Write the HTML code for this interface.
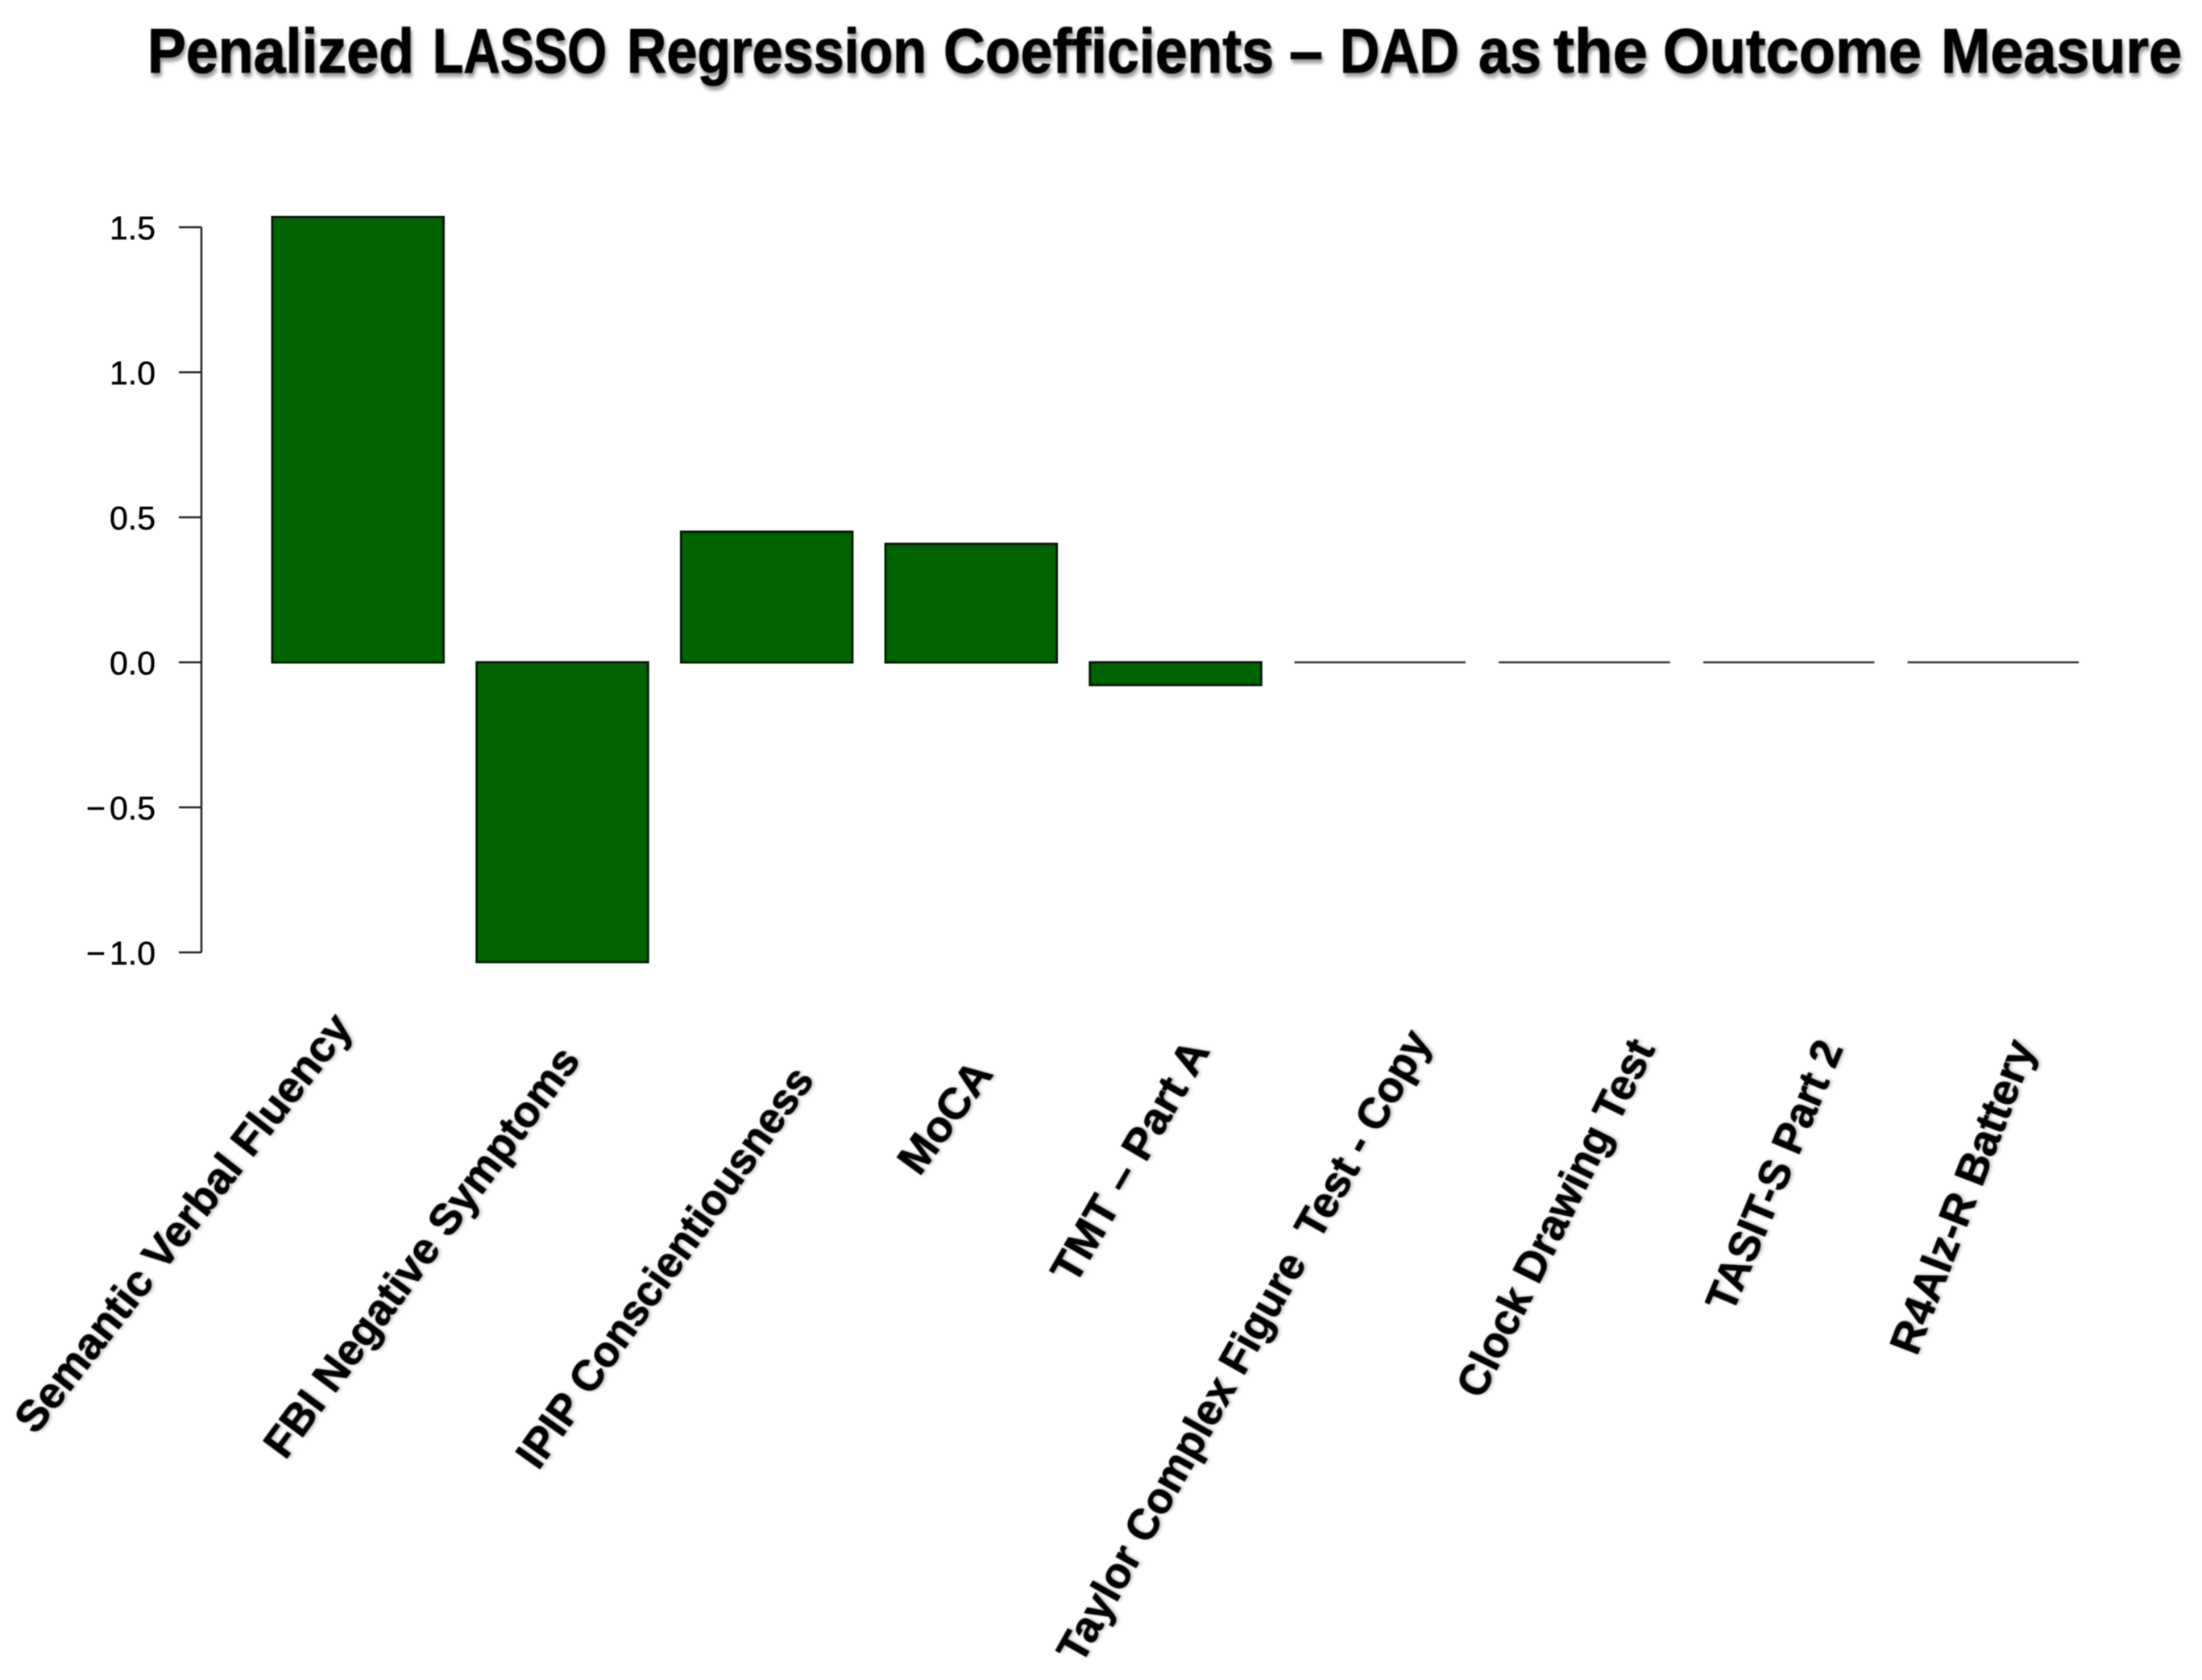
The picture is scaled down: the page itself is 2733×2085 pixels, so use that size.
<!DOCTYPE html>
<html lang="en">
<head>
<meta charset="utf-8">
<title>Penalized LASSO Regression Coefficients</title>
<style>
html,body{margin:0;padding:0;background:#fff;width:2733px;height:2085px;overflow:hidden}
svg{display:block}
.heading{font:bold 78px "Liberation Sans",sans-serif;fill:#000;stroke:#000;stroke-width:1}
.cat{font:bold 54px "Liberation Sans",sans-serif;fill:#000;stroke:#000;stroke-width:.8}
.tick{font:41px "Liberation Sans",sans-serif;fill:#000;stroke:#000;stroke-width:.5;text-anchor:end}
</style>
</head>
<body>
<svg id="chart" xmlns="http://www.w3.org/2000/svg" width="2733" height="2085" viewBox="0 0 2733 2085">
  <defs>
    <filter id="soft" x="-5%" y="-20%" width="110%" height="150%">
      <feGaussianBlur in="SourceAlpha" stdDeviation="2.5" result="b"/>
      <feOffset in="b" dx="2" dy="5" result="o"/>
      <feComponentTransfer in="o" result="s"><feFuncA type="linear" slope="0.4"/></feComponentTransfer>
      <feGaussianBlur in="SourceGraphic" stdDeviation="0.9" result="g"/>
      <feMerge><feMergeNode in="s"/><feMergeNode in="g"/></feMerge>
    </filter>
    <filter id="softLabel" x="-10%" y="-10%" width="120%" height="120%">
      <feGaussianBlur in="SourceAlpha" stdDeviation="2" result="b"/>
      <feOffset in="b" dx="1.5" dy="2.5" result="o"/>
      <feComponentTransfer in="o" result="s"><feFuncA type="linear" slope="0.22"/></feComponentTransfer>
      <feGaussianBlur in="SourceGraphic" stdDeviation="0.9" result="g"/>
      <feMerge><feMergeNode in="s"/><feMergeNode in="g"/></feMerge>
    </filter>
    <filter id="blur" x="-5%" y="-5%" width="110%" height="110%"><feGaussianBlur stdDeviation="0.5"/></filter>
  </defs>
  <rect width="2733" height="2085" fill="#fff"/>
  <text class="heading" y="90" filter="url(#soft)" xml:space="preserve"><tspan x="183" textLength="331" lengthAdjust="spacingAndGlyphs">Penalized</tspan> <tspan x="537" textLength="216" lengthAdjust="spacingAndGlyphs">LASSO</tspan> <tspan x="778" textLength="372" lengthAdjust="spacingAndGlyphs">Regression</tspan> <tspan x="1171" textLength="410" lengthAdjust="spacingAndGlyphs">Coefficients</tspan> <tspan x="1600" textLength="42" lengthAdjust="spacingAndGlyphs">–</tspan> <tspan x="1663" textLength="148" lengthAdjust="spacingAndGlyphs">DAD</tspan> <tspan x="1835" textLength="78" lengthAdjust="spacingAndGlyphs">as</tspan> <tspan x="1928" textLength="117" lengthAdjust="spacingAndGlyphs">the</tspan> <tspan x="2064" textLength="321" lengthAdjust="spacingAndGlyphs">Outcome</tspan> <tspan x="2409" textLength="299" lengthAdjust="spacingAndGlyphs">Measure</tspan></text>
  <g id="axis" filter="url(#blur)"></g>
  <g id="bars" filter="url(#blur)"></g>
  <g id="cats"></g>
</svg>
<script>
const categories = ["Semantic Verbal Fluency","FBI Negative Symptoms","IPIP Conscientiousness","MoCA","TMT – Part A","Taylor Complex Figure  Test - Copy","Clock Drawing Test","TASIT-S Part 2","R4Alz-R Battery"];
const coefficients = [1.535,-1.033,0.45,0.408,-0.078,0,0,0,0];
const yTicks = [1.5,1.0,0.5,0.0,-0.5,-1.0];
const yTickLabels = ["1.5","1.0","0.5","0.0","−0.5","−1.0"];

/* label placement in the reference: each label has its own slant and run length */
const labelLayout = [
  {x:44,y:1782,a:52,len:642},
  {x:354,y:1813,a:53.5,len:618},
  {x:668,y:1826,a:54.7,len:595},
  {x:1141,y:1461,a:54,len:158},
  {x:1334,y:1596,a:60,len:337},
  {x:1342,y:2067,a:60.7,len:889},
  {x:1839,y:1738,a:63.7,len:487},
  {x:2150,y:1631,a:67.3,len:358},
  {x:2379,y:1684,a:69,len:412}
];

const SVG_NS = "http://www.w3.org/2000/svg";
const yScale = v => 822 - v * 360;
const xScale = i => 338 + i * 253.7;
const BAR_W = 212.5;
const AXIS_X = 250;

function mk(tag, attrs){
  const el = document.createElementNS(SVG_NS, tag);
  for (const k in attrs) el.setAttribute(k, attrs[k]);
  return el;
}

const axisG = document.getElementById("axis");
const axisLine = mk("line",{x1:AXIS_X,x2:AXIS_X,y1:yScale(yTicks[0]),y2:yScale(yTicks[yTicks.length-1]),stroke:"#222","stroke-width":2.5});


axisG.appendChild(axisLine);
yTicks.forEach((t,i)=>{
  const tick = mk("line",{x1:AXIS_X-28,x2:AXIS_X,y1:yScale(t),y2:yScale(t),stroke:"#222","stroke-width":2.5});
  
  
  axisG.appendChild(tick);
  const lab = mk("text",{class:"tick",x:AXIS_X-57,y:yScale(t)+15});
  
  
  const s = yTickLabels[i];
  if (s[0] === "−") {
    lab.appendChild(document.createTextNode("−"));
    const rest = mk("tspan",{dx:5});
    rest.textContent = s.slice(1);
    lab.appendChild(rest);
  } else {
    lab.textContent = s;
  }
  axisG.appendChild(lab);
});

const barsG = document.getElementById("bars");
coefficients.forEach((v,i)=>{
  const y0 = yScale(Math.max(v,0)), y1 = yScale(Math.min(v,0));
  const bar = v === 0
    ? mk("line",{x1:xScale(i),x2:xScale(i)+BAR_W,y1:y0,y2:y0,stroke:"#333","stroke-width":2.5})
    : mk("rect",{x:xScale(i),y:y0,width:BAR_W,height:y1-y0,fill:"#006400",stroke:"#031f03","stroke-width":3});
  
  
  barsG.appendChild(bar);
});

const catsG = document.getElementById("cats");
categories.forEach((c,i)=>{
  const p = labelLayout[i];
  const t = mk("text",{class:"cat",x:0,y:0,textLength:p.len,lengthAdjust:"spacingAndGlyphs",transform:`translate(${p.x} ${p.y}) rotate(${-p.a})`,filter:"url(#softLabel)"});
  
  
  t.style.whiteSpace = 'pre';
  t.textContent = c;
  catsG.appendChild(t);
});
</script>
</body>
</html>
